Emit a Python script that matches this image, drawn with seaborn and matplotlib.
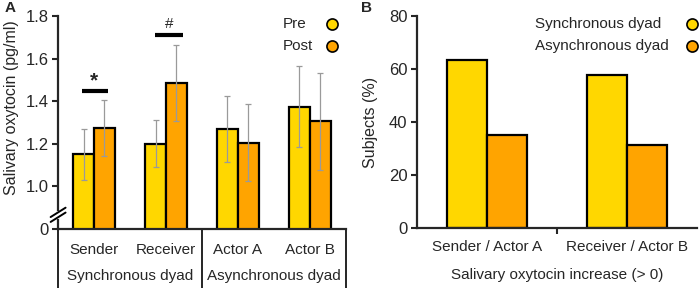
import seaborn as sns
import matplotlib.pyplot as plt
import matplotlib.transforms as mtransforms
import pandas as pd
import numpy as np

# panel A data
roles = ["Sender", "Receiver", "Actor A", "Actor B"]
groups = ["Synchronous dyad", "Asynchronous dyad"]
pre_mean = [1.15, 1.20, 1.27, 1.375]
post_mean = [1.275, 1.485, 1.205, 1.305]
pre_err = [0.12, 0.11, 0.155, 0.19]
post_err = [0.13, 0.18, 0.18, 0.23]

# panel B data
b_cats = ["Sender / Actor A", "Receiver / Actor B"]
sync_pct = [63.6, 57.6]
async_pct = [35.3, 31.3]

YELLOW = "#FFD700"
ORANGE = "#FFA400"

sns.set_style("ticks")
plt.rcParams["font.family"] = ["Liberation Sans", "DejaVu Sans"]
plt.rcParams["font.size"] = 9.5

fig = plt.figure(figsize=(7, 2.88), dpi=100)
axA = fig.add_axes([0.083, 0.205, 0.411, 0.739])
axB = fig.add_axes([0.596, 0.208, 0.400, 0.736])


def manual_legend(ax, labels, colors, xtext, xmark, ys):
    # text on the left (left aligned), circle marker on the right
    for lab, c, y in zip(labels, colors, ys):
        ax.text(xtext, y, lab, transform=ax.transAxes, ha="left",
                va="center", fontsize=11)
        ax.plot([xmark], [y], marker="o", ls="", markersize=8,
                markerfacecolor=c, markeredgecolor="black",
                markeredgewidth=1.2, transform=ax.transAxes, clip_on=False)


# ---- panel A ----
dfA = pd.DataFrame({
    "role": roles * 2,
    "time": ["Pre"] * 4 + ["Post"] * 4,
    "val": pre_mean + post_mean,
})
sns.barplot(data=dfA, x="role", y="val", hue="time", order=roles,
            hue_order=["Pre", "Post"], palette=[YELLOW, ORANGE], saturation=1,
            width=0.58, edgecolor="black", linewidth=1.6, errorbar=None,
            legend=False, ax=axA)
errs = pre_err + post_err
for p, e in zip(axA.patches, errs):
    cx = p.get_x() + p.get_width() / 2
    axA.errorbar(cx, p.get_height(), yerr=e, color="#9a9a9a", lw=0.9,
                 capsize=2.5, capthick=0.9, zorder=5)

axA.set_ylim(0.8, 1.8)
axA.set_xlim(-0.5, 3.5)
axA.set_yticks([0.8, 1.0, 1.2, 1.4, 1.6, 1.8])
axA.set_yticklabels(["0", "1.0", "1.2", "1.4", "1.6", "1.8"], fontsize=12)
axA.set_xticks(range(4))
axA.set_xticklabels(roles, fontsize=11)
axA.tick_params(axis="x", length=0, pad=10)
axA.tick_params(axis="y", length=4, width=1.5, pad=3)
axA.set_xlabel("")
axA.set_ylabel("")
for s in ["top", "right"]:
    axA.spines[s].set_visible(False)
for s in ["left", "bottom"]:
    axA.spines[s].set_linewidth(1.6)

# axis break on the y axis
trA = mtransforms.blended_transform_factory(axA.transAxes, axA.transData)
axA.plot([0, 0], [0.857, 0.876], color="white", lw=3, transform=trA,
         clip_on=False, zorder=10)
for yb in [0.855, 0.878]:
    axA.plot([-0.026, 0.026], [yb - 0.022, yb + 0.022], color="black",
             lw=1.4, transform=trA, clip_on=False, zorder=11)

# significance marks
axA.plot([-0.17, 0.19], [1.447, 1.447], color="black", lw=3, solid_capstyle="butt")
axA.text(0.0, 1.45, "*", ha="center", va="bottom", fontsize=15, weight="bold")
axA.plot([0.85, 1.24], [1.71, 1.71], color="black", lw=3, solid_capstyle="butt")
axA.text(1.04, 1.73, "#", ha="center", va="bottom", fontsize=11)

# group divider lines and group labels
trX = mtransforms.blended_transform_factory(axA.transData, axA.transAxes)
for xv in [-0.5, 1.5, 3.5]:
    axA.plot([xv, xv], [0, -0.3], color="black", lw=1.2, transform=trX,
             clip_on=False)
for xc, g in zip([0.5, 2.5], groups):
    axA.text(xc, -0.222, g, ha="center", va="center", fontsize=11, transform=trX)

manual_legend(axA, ["Pre", "Post"], [YELLOW, ORANGE], 0.781, 0.951,
              [0.962, 0.859])

fig.text(0.016, 0.628, "Salivary oxytocin (pg/ml)", rotation=90,
         ha="center", va="center", fontsize=11.5)

# ---- panel B ----
dfB = pd.DataFrame({
    "cat": b_cats * 2,
    "dyad": ["Synchronous dyad"] * 2 + ["Asynchronous dyad"] * 2,
    "pct": sync_pct + async_pct,
})
sns.barplot(data=dfB, x="cat", y="pct", hue="dyad", order=b_cats,
            hue_order=["Synchronous dyad", "Asynchronous dyad"],
            palette=[YELLOW, ORANGE], saturation=1, width=0.572,
            edgecolor="black", linewidth=1.6, errorbar=None, legend=False,
            ax=axB)
axB.set_ylim(0, 80)
axB.set_xlim(-0.5, 1.5)
axB.set_yticks([0, 20, 40, 60, 80])
axB.tick_params(axis="y", length=4, width=1.5, labelsize=12, pad=3)
axB.set_xticks([0.5])
axB.set_xticklabels([""])
axB.tick_params(axis="x", length=4, width=1.5, direction="out")
trB = mtransforms.blended_transform_factory(axB.transData, axB.transAxes)
for i, c in enumerate(b_cats):
    axB.text(i, -0.09, c, ha="center", va="center", fontsize=11, transform=trB)
axB.set_xlabel("")
fig.text(0.796, 0.045, "Salivary oxytocin increase (> 0)", ha="center",
         va="center", fontsize=11)
axB.set_ylabel("Subjects (%)", fontsize=11.5, labelpad=8)
for s in ["top", "right"]:
    axB.spines[s].set_visible(False)
for s in ["left", "bottom"]:
    axB.spines[s].set_linewidth(1.6)

manual_legend(axB, ["Synchronous dyad", "Asynchronous dyad"], [YELLOW, ORANGE],
              0.421, 0.982, [0.962, 0.858])

fig.text(0.006, 0.995, "A", fontsize=11, weight="bold", ha="left", va="top")
fig.text(0.516, 0.995, "B", fontsize=11, weight="bold", ha="left", va="top")

fig.savefig("out.png", dpi=100)
